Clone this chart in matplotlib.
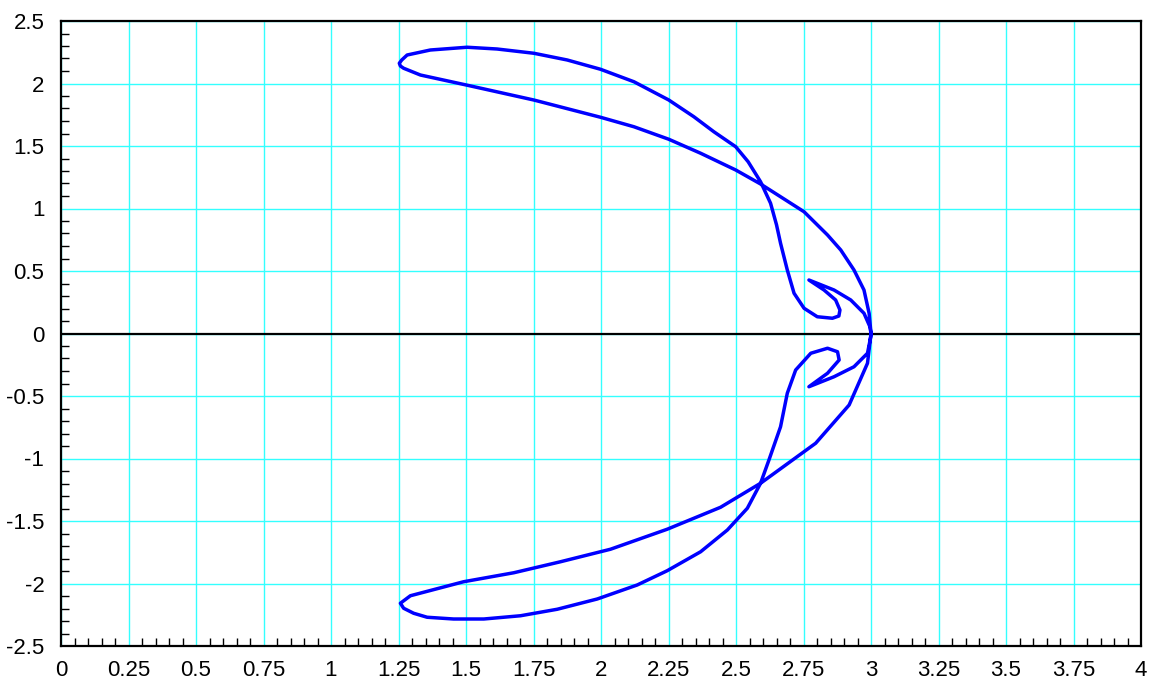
import matplotlib
matplotlib.use("Agg")
import matplotlib.pyplot as plt
from matplotlib.ticker import MultipleLocator, FixedLocator

# Upper loop, traversed from (3, 0)
upper_x = [3.0, 2.993, 2.974, 2.937, 2.888, 2.839, 2.752, 2.665, 2.591, 2.499,
           2.369, 2.251, 2.122, 1.998, 1.751, 1.501, 1.331, 1.269, 1.257, 1.253,
           1.262, 1.282, 1.368, 1.504, 1.615, 1.751, 1.875, 1.998, 2.122, 2.251,
           2.344, 2.418, 2.499, 2.545, 2.591, 2.628, 2.650, 2.665, 2.690, 2.715,
           2.752, 2.801, 2.857, 2.881, 2.885, 2.869, 2.826, 2.770, 2.863, 2.925,
           2.974, 2.996, 3.0]
upper_y = [0.0, 0.162, 0.348, 0.508, 0.668, 0.788, 0.974, 1.094, 1.196, 1.308,
           1.442, 1.554, 1.654, 1.730, 1.868, 1.988, 2.068, 2.122, 2.140, 2.162,
           2.188, 2.228, 2.268, 2.290, 2.276, 2.242, 2.188, 2.114, 2.014, 1.868,
           1.734, 1.614, 1.494, 1.374, 1.214, 1.042, 0.870, 0.722, 0.508, 0.322,
           0.202, 0.134, 0.122, 0.140, 0.188, 0.268, 0.348, 0.428, 0.348, 0.268,
           0.162, 0.054, 0.0]

# Lower loop, traversed from (3, 0)
lower_x = [3.0, 2.987, 2.919, 2.795, 2.591, 2.443, 2.245, 2.035, 1.850, 1.677,
           1.491, 1.294, 1.257, 1.269, 1.306, 1.356, 1.454, 1.566, 1.702, 1.838,
           1.986, 2.134, 2.245, 2.369, 2.468, 2.542, 2.591, 2.622, 2.665, 2.690,
           2.721, 2.777, 2.839, 2.876, 2.882, 2.839, 2.770, 2.863, 2.937, 2.987,
           2.999, 3.0]
lower_y = [0.0, -0.238, -0.572, -0.878, -1.198, -1.390, -1.566, -1.726, -1.826, -1.914,
           -1.986, -2.098, -2.158, -2.198, -2.238, -2.270, -2.284, -2.284, -2.258, -2.206,
           -2.124, -2.012, -1.898, -1.746, -1.572, -1.398, -1.198, -1.012, -0.746, -0.478,
           -0.292, -0.158, -0.118, -0.146, -0.212, -0.318, -0.426, -0.346, -0.266, -0.158,
           -0.026, 0.0]

x_ticks = [0, 0.25, 0.5, 0.75, 1, 1.25, 1.5, 1.75, 2, 2.25, 2.5, 2.75, 3, 3.25, 3.5, 3.75, 4]
x_tick_labels = ["0", "0.25", "0.5", "0.75", "1", "1.25", "1.5", "1.75", "2", "2.25",
                 "2.5", "2.75", "3", "3.25", "3.5", "3.75", "4"]
y_ticks = [-2.5, -2, -1.5, -1, -0.5, 0, 0.5, 1, 1.5, 2, 2.5]
y_tick_labels = ["-2.5", "-2", "-1.5", "-1", "-0.5", "0", "0.5", "1", "1.5", "2", "2.5"]

plt.rcParams['font.family'] = ['Liberation Sans', 'DejaVu Sans']

fig = plt.figure(figsize=(11.5, 6.81), dpi=100)
ax = fig.add_axes([61 / 1150, 35 / 681, 1080 / 1150, 625 / 681])

ax.set_xlim(0, 4)
ax.set_ylim(-2.5, 2.5)

ax.grid(True, which='major', color='#33ffff', linewidth=1.0, zorder=0)
ax.set_axisbelow(True)
ax.axhline(0, color='black', linewidth=1.6, zorder=1)

ax.plot(upper_x + lower_x, upper_y + lower_y, color='#0000ff', linewidth=2.5,
        solid_joinstyle='round', zorder=3)

ax.xaxis.set_major_locator(FixedLocator(x_ticks))
ax.set_xticklabels(x_tick_labels)
ax.yaxis.set_major_locator(FixedLocator(y_ticks))
ax.set_yticklabels(y_tick_labels)
ax.xaxis.set_minor_locator(MultipleLocator(0.05))
ax.yaxis.set_minor_locator(MultipleLocator(0.1))

ax.tick_params(which='both', direction='in', top=False, right=False,
               labelsize=16, colors='black')
ax.tick_params(axis='x', which='major', length=0, pad=10)
ax.tick_params(axis='y', which='major', length=0, pad=12)
ax.tick_params(which='minor', length=6, width=1.0)
for s in ax.spines.values():
    s.set_linewidth(1.6)
    s.set_color('black')

fig.savefig('out.png', dpi=100)
